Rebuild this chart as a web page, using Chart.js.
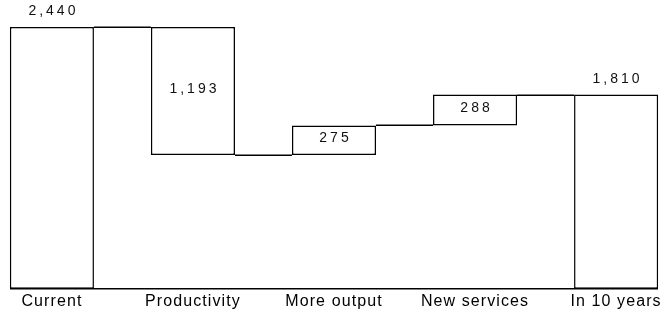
<!DOCTYPE html>
<html>
<head>
<meta charset="utf-8">
<script src="https://cdn.jsdelivr.net/npm/chart.js@4/dist/chart.umd.min.js"></script>
<style>
  html, body { margin: 0; padding: 0; background: #fff; }
  #wrap { width: 662px; height: 326px; position: relative; }
</style>
</head>
<body>
<div id="wrap"><canvas id="c"></canvas></div>
<script>
// Waterfall: headcount today, changes, and the result in 10 years
const categories = ['Current', 'Productivity', 'More output', 'New services', 'In 10 years'];
const amounts = [2440, -1193, 275, 288, 1810];
const isTotal = [true, false, false, false, true];
const valueLabels = ['2,440', '1,193', '275', '288', '1,810'];

// Floating [low, high] range for each bar, plus the running level after it
const ranges = [];
const levels = [];
let running = 0;
amounts.forEach((v, i) => {
  if (isTotal[i]) {
    ranges.push([0, v]);
    running = v;
  } else {
    const next = running + v;
    ranges.push([Math.min(running, next), Math.max(running, next)]);
    running = next;
  }
  levels.push(running);
});

const FONT = '"Liberation Sans", Arial, Helvetica, sans-serif';

const waterfallPlugin = {
  id: 'waterfall',
  beforeDraw(chart) {
    chart.ctx.letterSpacing = '1.1px';
  },
  afterDatasetsDraw(chart) {
    const ctx = chart.ctx;
    const meta = chart.getDatasetMeta(0);
    const y = chart.scales.y;
    ctx.save();
    // connector lines between neighbouring bars
    ctx.strokeStyle = '#000';
    ctx.lineWidth = 1.5;
    for (let i = 0; i < meta.data.length - 1; i++) {
      const a = meta.data[i], b = meta.data[i + 1];
      const py = Math.round(y.getPixelForValue(levels[i])) + 0.25;
      ctx.beginPath();
      ctx.moveTo(a.x + a.width / 2, py);
      ctx.lineTo(b.x - b.width / 2, py);
      ctx.stroke();
    }
    // value labels
    ctx.letterSpacing = '3px';
    ctx.fillStyle = '#111';
    ctx.font = '14px ' + FONT;
    ctx.textAlign = 'center';
    meta.data.forEach((bar, i) => {
      const top = Math.min(bar.y, bar.base);
      const bottom = Math.max(bar.y, bar.base);
      if (isTotal[i]) {
        ctx.textBaseline = 'alphabetic';
        ctx.fillText(valueLabels[i], bar.x + 1.5, top - 12);
      } else {
        ctx.textBaseline = 'middle';
        ctx.fillText(valueLabels[i], bar.x + 1.5, (top + bottom) / 2 - 2);
      }
    });
    ctx.restore();
  }
};

new Chart(document.getElementById('c'), {
  type: 'bar',
  data: {
    datasets: [{
      data: ranges.map((r, i) => ({ x: i, y: r })),
      backgroundColor: '#fff',
      borderColor: '#000',
      borderWidth: 1.5,
      borderSkipped: false,
      categoryPercentage: 1,
      barPercentage: 0.596,
      clip: false
    }]
  },
  options: {
    responsive: true,
    maintainAspectRatio: false,
    animation: false,
    events: [],
    layout: { padding: { left: 11, right: 5, top: 27, bottom: 12 } },
    plugins: { legend: { display: false }, tooltip: { enabled: false } },
    scales: {
      x: {
        type: 'linear',
        offset: false,
        min: -0.29,
        max: 4.29,
        afterBuildTicks: (s) => { s.ticks = categories.map((_, i) => ({ value: i })); },
        grid: { display: false, drawTicks: false, offset: false },
        border: { display: true, color: '#000', width: 1.5 },
        ticks: {
          callback: (v) => categories[v],
          color: '#000',
          font: { family: FONT, size: 16 },
          padding: 3,
          autoSkip: false,
          maxRotation: 0
        }
      },
      y: { display: false, min: 0, max: 2440 }
    }
  },
  plugins: [waterfallPlugin]
});
</script>
</body>
</html>
